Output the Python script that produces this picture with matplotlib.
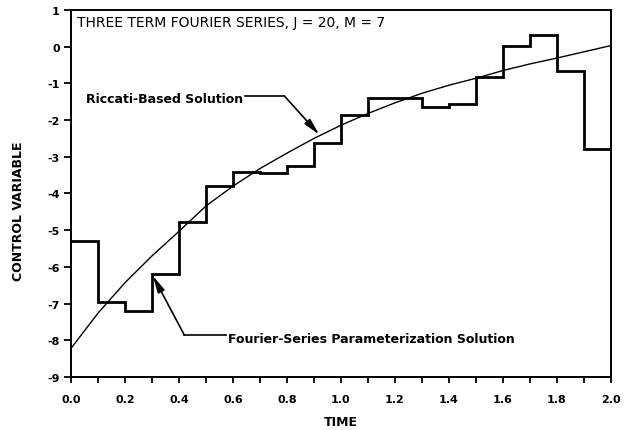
import matplotlib
matplotlib.use("Agg")
import matplotlib.pyplot as plt
import numpy as np

# Fourier-series parameterization (piecewise constant on 0.1 intervals)
step_edges = [0.0, 0.1, 0.2, 0.3, 0.4, 0.5, 0.6, 0.7, 0.8, 0.9, 1.0,
              1.1, 1.2, 1.3, 1.4, 1.5, 1.6, 1.7, 1.8, 1.9, 2.0]
step_values = [-5.29, -6.96, -7.20, -6.19, -4.79, -3.79, -3.42, -3.44, -3.24, -2.62,
               -1.86, -1.41, -1.41, -1.63, -1.56, -0.83, 0.03, 0.32, -0.65, -2.80]

# Riccati-based solution
ric_t = [0.0, 0.1, 0.2, 0.3, 0.4, 0.5, 0.6, 0.7, 0.8, 0.9, 1.0,
         1.1, 1.2, 1.3, 1.4, 1.5, 1.6, 1.7, 1.8, 1.9, 2.0]
ric_u = [-8.22, -7.26, -6.43, -5.70, -5.03, -4.34, -3.80, -3.32, -2.90, -2.50, -2.14,
         -1.82, -1.53, -1.27, -1.05, -0.86, -0.65, -0.47, -0.31, -0.14, 0.03]

x_ticks = [0.0, 0.2, 0.4, 0.6, 0.8, 1.0, 1.2, 1.4, 1.6, 1.8, 2.0]
x_tick_labels = ["0.0", "0.2", "0.4", "0.6", "0.8", "1.0", "1.2", "1.4", "1.6", "1.8", "2.0"]
y_ticks = [1, 0, -1, -2, -3, -4, -5, -6, -7, -8, -9]
y_tick_labels = ["1", "0", "-1", "-2", "-3", "-4", "-5", "-6", "-7", "-8", "-9"]

title_text = "THREE TERM FOURIER SERIES, J = 20, M = 7"
ric_label = "Riccati-Based Solution"
fou_label = "Fourier-Series Parameterization Solution"

fig = plt.figure(figsize=(6.37, 4.31), dpi=100)
ax = fig.add_axes([0.1115, 0.123, 0.8475, 0.8515])

sv = step_values + [step_values[-1]]
ax.step(step_edges, sv, where="post", color="black", lw=2.0, solid_joinstyle="miter")
ax.plot(ric_t, ric_u, color="black", lw=1.0)

ax.set_xlim(0, 2.0)
ax.set_ylim(-9, 1)
ax.set_xticks(x_ticks)
ax.set_xticklabels(x_tick_labels)
ax.set_xticks(np.arange(1, 20, 2) / 10.0, minor=True)
ax.set_yticks(y_ticks)
ax.set_yticklabels(y_tick_labels)

for lbl in ax.get_xticklabels() + ax.get_yticklabels():
    lbl.set_fontweight("bold")
    lbl.set_fontsize(8)

ax.tick_params(axis="both", which="both", direction="out", width=1.3, colors="black")
ax.tick_params(axis="x", which="major", length=4, pad=8)
ax.tick_params(axis="x", which="minor", length=4)
ax.tick_params(axis="y", which="major", length=5, pad=3)
for s in ax.spines.values():
    s.set_linewidth(1.4)

ax.set_xlabel("TIME", fontsize=9, fontweight="bold", labelpad=8)
ax.set_ylabel("CONTROL VARIABLE", fontsize=9, fontweight="bold")
ax.yaxis.set_label_coords(-0.085, 0.455)

ax.text(0.021, 0.665, title_text, fontsize=10, ha="left", va="center")

# Riccati annotation
ax.text(0.056, -1.42, ric_label, fontsize=9, fontweight="bold", ha="left", va="center")
ax.plot([0.645, 0.79], [-1.34, -1.34], color="black", lw=1.2)
ax.annotate("", xy=(0.92, -2.40), xytext=(0.79, -1.34),
            arrowprops=dict(arrowstyle="-|>,head_length=1.0,head_width=0.22",
                            color="black", lw=1.2, shrinkA=0, shrinkB=0))

# Fourier annotation
ax.text(0.583, -7.94, fou_label, fontsize=9, fontweight="bold", ha="left", va="center")
ax.plot([0.42, 0.575], [-7.86, -7.86], color="black", lw=1.2)
ax.annotate("", xy=(0.303, -6.24), xytext=(0.42, -7.86),
            arrowprops=dict(arrowstyle="-|>,head_length=1.0,head_width=0.22",
                            color="black", lw=1.2, shrinkA=0, shrinkB=0))

fig.savefig("out.png", dpi=100)
